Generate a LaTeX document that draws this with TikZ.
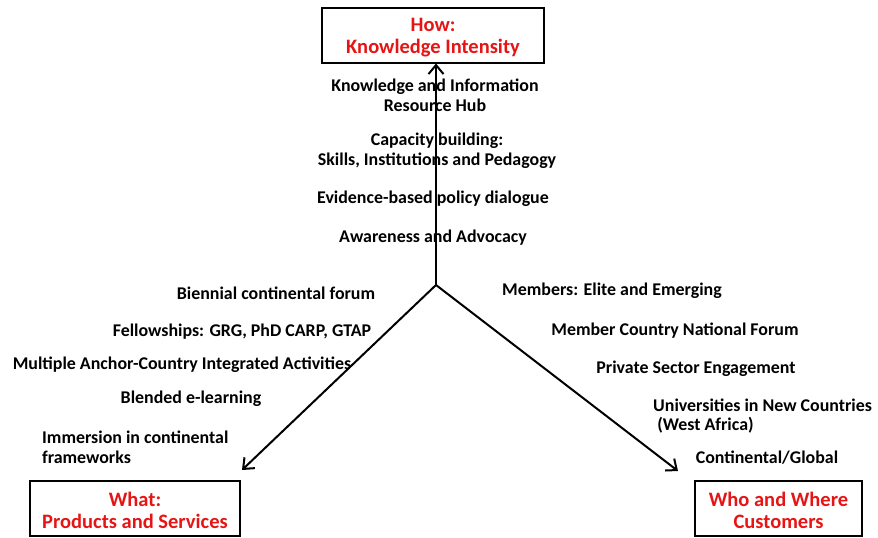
\documentclass[tikz,border=0pt]{standalone}
\usepackage{fontspec}
\setmainfont{Carlito}
\usetikzlibrary{arrows.meta}
\definecolor{headred}{RGB}{230,20,20}
\tikzset{
  headbox/.style={draw=black, line width=2pt, minimum width=#1, minimum height=55pt, inner sep=0pt},
  headtext/.style={inner sep=0pt, text=headred, align=center, font=\bfseries\fontsize{20.5}{22}\selectfont},
  lbl/.style={font=\bfseries\fontsize{17.9}{19.8}\selectfont, inner sep=0pt, align=center},
  lbll/.style={lbl, anchor=west, align=left},
  spoke/.style={line width=2pt, -{Straight Barb[length=9pt,width=15pt,line width=2pt]}}
}
\begin{document}
\begin{tikzpicture}[x=1pt, y=-1pt]
\useasboundingbox (0,0) rectangle (878,538);

% the three heading boxes and their texts
\node[headbox=222pt] (how) at (433,35) {};
\node[headtext] (howtext) at (433,37.5) {How:\\Knowledge Intensity};
\node[headbox=210pt] (what) at (135,508) {};
\node[headtext] (whattext) at (135,510) {What:\\Products and Services};
\node[headbox=167pt] (who) at (778.5,508) {};
\node[headtext] (whotext) at (778.5,510) {Who and Where\\Customers};

% hub and spokes
\coordinate (hub) at (436,285);
\coordinate (whatend) at (242,470);
\coordinate (whoend) at (678,471);
\draw[spoke] (hub) -- (how.south -| hub);
\draw[spoke] (hub) -- (whatend);
\draw[spoke] (hub) -- (whoend);

% How: knowledge intensity
\node[lbl] (k1) at (435,95) {Knowledge and Information\\Resource Hub};
\node[lbl] (k2) at (437,151) {Capacity building:\\Skills, Institutions and Pedagogy};
\node[lbl] (k3) at (433,199) {Evidence-based policy dialogue};
\node[lbl] (k4) at (433,238) {Awareness and Advocacy};

% What: products and services
\node[lbl] (p1) at (276,293) {Biennial continental forum};
\node[lbl] (p2) at (242,332) {Fellowships: GRG, PhD CARP, GTAP};
\node[lbl] (p3) at (182,365) {Multiple Anchor-Country Integrated Activities};
\node[lbl] (p4) at (191,399) {Blended e-learning};
\node[lbll] (p5) at (42,447) {Immersion in continental\\frameworks};

% Who and where: customers
\node[lbl] (c1) at (612,291) {Members: Elite and Emerging};
\node[lbl] (c2) at (675,331) {Member Country National Forum};
\node[lbl] (c3) at (696,369) {Private Sector Engagement};
\node[lbll] (c4) at (653,416) {Universities in New Countries\\\ (West Africa)};
\node[lbl] (c5) at (767,458) {Continental/Global};
\end{tikzpicture}
\end{document}
